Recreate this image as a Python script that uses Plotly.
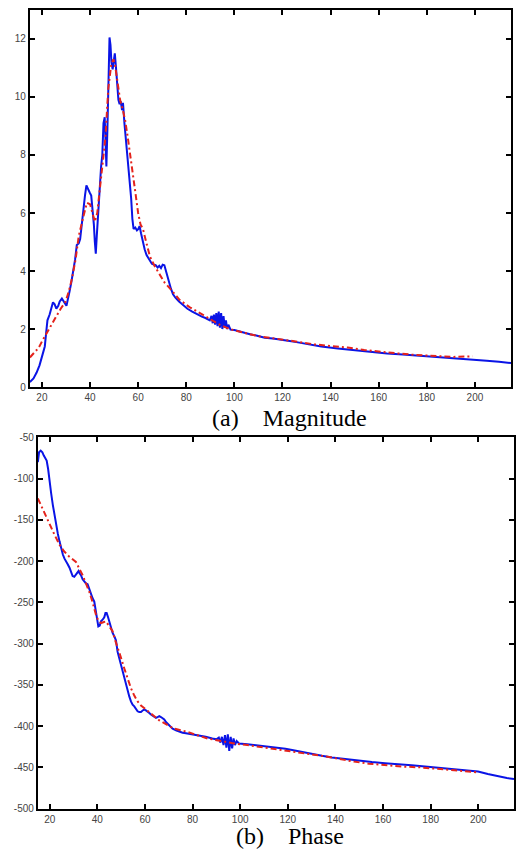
import plotly.graph_objects as go

# ---------------- data ----------------
mag_meas_x = [15, 16.5, 17.8, 19, 20.2, 21.2, 21.8, 22.3, 23.2, 24.0, 24.6, 25.3, 26.0, 26.8, 27.4, 28.3, 29.0, 29.6,
              30.2, 30.8, 31.5, 32.2, 33.0, 33.8, 34.5, 35.3, 35.9, 36.6, 37.3, 37.9, 38.5, 39.2, 39.9, 40.5, 41.0,
              41.6, 42.0, 42.4, 42.8, 43.3, 44.0, 44.6, 45.1, 45.6, 46.1, 46.4, 46.8, 47.2, 47.6, 48.1, 48.5, 48.9,
              49.4, 49.9, 50.3, 50.8, 51.3, 51.8, 52.3, 52.8, 53.3, 53.7, 54.3, 55.0, 55.7, 56.4, 57.1, 57.6, 58.1,
              58.8, 59.5, 60.1, 60.6, 61.2, 62.0, 62.7, 63.5, 64.2, 65.0, 65.7, 66.5, 67.3, 68.1, 68.8, 69.5, 70.2,
              70.9, 71.5, 72.2, 72.9, 73.6, 74.5, 75.5, 77, 78.5, 80.5, 82.5, 84.7, 86.5, 88.0, 89.0, 89.8, 90.5,
              91.0, 91.5, 92.0, 92.5, 93.0, 93.5, 94.0, 94.5, 95.0, 95.5, 96.0, 96.5, 97.0, 97.5, 98.4, 100, 102,
              104, 106.5, 109.5, 112.6, 116, 119.5, 123, 126.4, 131, 136.1, 143, 149.8, 156, 163.5, 170, 177.3, 184,
              191.1, 198, 204.9, 210, 215]
mag_meas_y = [0.17, 0.3, 0.5, 0.75, 1.1, 1.4, 1.9, 2.3, 2.5, 2.75, 2.92, 2.85, 2.7, 2.8, 2.95, 3.05, 2.98, 2.88,
              2.8, 3.0, 3.3, 3.6, 3.95, 4.4, 4.9, 4.95, 5.1, 5.7, 6.1, 6.6, 6.95, 6.8, 6.7, 6.6, 6.2,
              5.6, 5.0, 4.6, 5.2, 6.0, 7.0, 7.6, 8.0, 9.1, 9.3, 8.4, 7.6, 8.8, 10.2, 12.05, 11.8, 11.2,
              10.95, 11.4, 11.5, 11.0, 10.3, 9.9, 9.75, 9.85, 9.55, 9.8, 9.1, 8.5, 7.8, 7.1, 6.5, 5.8, 5.45,
              5.5, 5.4, 5.45, 5.55, 5.3, 4.95, 4.75, 4.55, 4.45, 4.3, 4.25, 4.22, 4.2, 4.12, 4.18, 4.1, 4.22,
              4.2, 4.0, 3.85, 3.6, 3.4, 3.2, 3.08, 2.95, 2.85, 2.7, 2.6, 2.5, 2.43, 2.38, 2.35, 2.3, 2.45,
              2.2, 2.5, 2.15, 2.55, 2.1, 2.6, 2.05, 2.55, 2.0, 2.45, 2.05, 2.3, 2.0, 2.15, 1.98, 1.97, 1.92,
              1.87, 1.82, 1.77, 1.7, 1.67, 1.64, 1.59, 1.54, 1.47, 1.4, 1.33, 1.27, 1.22, 1.16, 1.12, 1.08, 1.04,
              0.99, 0.95, 0.91, 0.87, 0.83]

mag_fit_x = [15, 17, 18.7, 20.2, 21.6, 23.5, 25.7, 27.8, 29.8, 31.2, 32.5, 34.0, 35.3, 36.3, 37.3, 38.7, 40.0,
             41.0, 42.0, 43.0, 44.0, 45.2, 46.4, 47.6, 48.8, 49.7, 50.4, 51.1, 52.5, 53.5, 54.6, 55.7, 56.7, 57.7,
             58.7, 60.0, 61.0, 62.0, 63.5, 64.9, 67.0, 69.0, 71.0, 73.2, 75.2, 77.3, 81.5, 85.6, 89.8, 93.9, 98,
             102.2, 106.3, 110.4, 115, 119.5, 126.4, 133.3, 140.2, 147.1, 154, 160.9, 167.8, 174.7, 184.3, 191.1, 199]
mag_fit_y = [1.02, 1.2, 1.36, 1.6, 1.8, 2.1, 2.43, 2.7, 2.94, 3.3, 3.74, 4.4, 5.2, 5.6, 5.9, 6.35, 6.3,
             6.0, 5.7, 6.0, 6.8, 7.7, 8.6, 10.3, 11.1, 11.3, 11.1, 10.7, 9.9, 9.6, 9.2, 8.6, 8.07, 7.4,
             6.8, 6.0, 5.6, 5.45, 4.95, 4.5, 4.15, 3.85, 3.6, 3.4, 3.2, 3.0, 2.75, 2.55, 2.33, 2.15, 2.0,
             1.9, 1.82, 1.75, 1.7, 1.66, 1.56, 1.47, 1.42, 1.36, 1.28, 1.21, 1.16, 1.11, 1.08, 1.04, 1.06]

ph_meas_x = [15, 15.5, 16.2, 16.9, 17.5, 18.1, 18.7, 19.3, 19.9, 20.6, 21.3, 22.0, 22.7, 23.4, 24.1, 24.8, 25.5,
             26.2, 26.9, 27.6, 28.3, 29.0, 29.6, 30.3, 31.0, 31.6, 32.1, 32.6, 33.1, 33.8, 34.5, 35.2, 35.9, 36.6,
             37.3, 38.0, 38.7, 39.1, 39.4, 39.9, 40.4, 41.0, 41.5, 42.2, 42.9, 43.4, 43.9, 44.5, 45.0, 45.7, 46.4,
             47.1, 47.8, 48.5, 49.2, 49.9, 50.6, 51.3, 52.0, 52.7, 53.4, 54.1, 54.8, 55.5, 56.2, 56.9, 57.6, 58.3,
             59.0, 59.7, 60.4, 61.1, 61.8, 62.5, 63.5, 64.6, 65.3, 66.0, 66.7, 67.4, 68.1, 68.8, 70.2, 71.6, 73.0,
             74.4, 75.8, 77.2, 80, 82.8, 85.5, 88.3, 90, 91, 91.7, 92.3, 93, 93.6, 94.2, 94.8, 95.4, 96, 96.6,
             97.2, 97.8, 98.5, 99.5, 103, 107.8, 112, 116.2, 119, 121.8, 126, 130.2, 134.3, 138.5, 142.7, 146.9,
             151, 155.3, 160.8, 166.4, 172, 177.6, 183.2, 188.7, 194.3, 199.9, 204, 208.3, 212, 215]
ph_meas_y = [-80, -68, -66, -68, -72, -76, -78, -88, -104, -118, -132, -145, -156, -167, -176, -185, -192,
             -197, -200, -204, -208, -213, -218, -219, -216, -213, -212, -215, -217, -222, -225, -227, -228, -234,
             -241, -245, -249, -256, -262, -272, -279, -278, -273, -271, -268, -263, -263, -268, -273, -281, -287,
             -291, -296, -310, -318, -326, -334, -342, -350, -358, -364, -370, -374, -376, -379, -382, -383, -383,
             -381, -380, -381, -382, -384, -386, -388, -390, -389, -388, -389, -390, -392, -395, -399, -403, -405,
             -407, -408, -408.6, -410, -411, -413, -415, -416, -414, -420, -413, -423, -411, -426, -410, -430, -413,
             -427, -415, -423, -418, -421, -422, -423.5, -425, -426, -427.5, -429, -431.5, -434, -436, -438,
             -439.5, -441, -442.5, -443.6, -445, -446, -447.5, -449, -450.3, -451.6, -453.3, -455, -458, -461,
             -463, -464]

ph_fit_x = [15, 17.5, 19.9, 22, 24.1, 26, 28, 31.0, 33.8, 35.2, 36.6, 38.0, 39.4, 40.4, 41.5, 42.5, 43.6, 45.0,
            46.4, 47.5, 48.5, 49.9, 51.3, 52.7, 54.1, 55.5, 56.9, 58.3, 59.7, 61.8, 63.9, 66.0, 68.1, 70.2, 72.3,
            75, 77.9, 82, 86.3, 92, 97.4, 103, 108.6, 115, 122.5, 128, 133.7, 140, 147.7, 154, 161.6, 168, 175.6,
            182, 189.6, 195, 200]
ph_fit_y = [-124, -140, -156, -168, -180, -188, -194, -201, -217, -226, -237, -250, -265, -272, -275, -274, -273,
            -279, -285, -296, -304, -317, -330, -342, -354, -363, -370, -375, -378, -383, -388, -393, -397, -400,
            -403, -405, -407, -411, -415, -418, -421, -423, -425.5, -428.5, -431.5, -433.5, -435.6, -439, -443,
            -445.5, -447.6, -449, -450, -451.5, -453, -454.5, -456]

x_ticks = [20, 40, 60, 80, 100, 120, 140, 160, 180, 200]
mag_ticks = [0, 2, 4, 6, 8, 10, 12]
ph_ticks = [-500, -450, -400, -350, -300, -250, -200, -150, -100, -50]
ph_tick_labels = [str(v) for v in ph_ticks]  # ASCII hyphen minus, as in the original
captions = ["(a)\u00a0\u00a0\u00a0\u00a0Magnitude", "(b)\u00a0\u00a0\u00a0\u00a0Phase"]

# ---------------- figure ----------------
W, H = 516, 862
BLUE = "#0a14e6"
RED = "#e4231c"

fig = go.Figure()
fig.add_trace(go.Scatter(x=mag_meas_x, y=mag_meas_y, mode="lines", xaxis="x", yaxis="y",
                         line=dict(color=BLUE, width=2), showlegend=False))
fig.add_trace(go.Scatter(x=mag_fit_x, y=mag_fit_y, mode="lines", xaxis="x", yaxis="y",
                         line=dict(color=RED, width=2, dash="6px,3px,2px,3px"), showlegend=False))
fig.add_trace(go.Scatter(x=ph_meas_x, y=ph_meas_y, mode="lines", xaxis="x2", yaxis="y2",
                         line=dict(color=BLUE, width=2), showlegend=False))
fig.add_trace(go.Scatter(x=ph_fit_x, y=ph_fit_y, mode="lines", xaxis="x2", yaxis="y2",
                         line=dict(color=RED, width=2, dash="6px,3px,2px,3px"), showlegend=False))

axis_common = dict(showline=True, linecolor="black", linewidth=2, mirror="ticks",
                   ticks="inside", ticklen=5, tickwidth=2, tickcolor="black",
                   showgrid=False, zeroline=False,
                   tickfont=dict(family="Liberation Sans, Arial", size=10, color="#444444"))

fig.update_layout(
    width=W, height=H,
    margin=dict(l=0, r=0, t=0, b=0),
    paper_bgcolor="white", plot_bgcolor="white",
    xaxis=dict(domain=[30 / W, 513 / W], range=[15, 215], tickvals=x_ticks, anchor="y", **axis_common),
    yaxis=dict(domain=[1 - 387 / H, 1 - 5 / H], range=[0, 13], tickvals=mag_ticks, anchor="x", **axis_common),
    xaxis2=dict(domain=[38 / W, 1.0], range=[15, 215], tickvals=x_ticks, anchor="y2", **axis_common),
    yaxis2=dict(domain=[1 - 814 / H, 1 - 438 / H], range=[-500, -50], tickvals=ph_ticks,
                ticktext=ph_tick_labels, anchor="x2", **axis_common),
    annotations=[
        dict(text=captions[0], x=291 / W, y=1 - 418 / H, xref="paper", yref="paper",
             xanchor="center", yanchor="middle", showarrow=False,
             font=dict(family="Liberation Serif, Times New Roman", size=24, color="black")),
        dict(text=captions[1], x=291 / W, y=1 - 842 / H, xref="paper", yref="paper",
             xanchor="center", yanchor="middle", showarrow=False,
             font=dict(family="Liberation Serif, Times New Roman", size=24, color="black")),
    ],
)

fig.write_html("out.html")
